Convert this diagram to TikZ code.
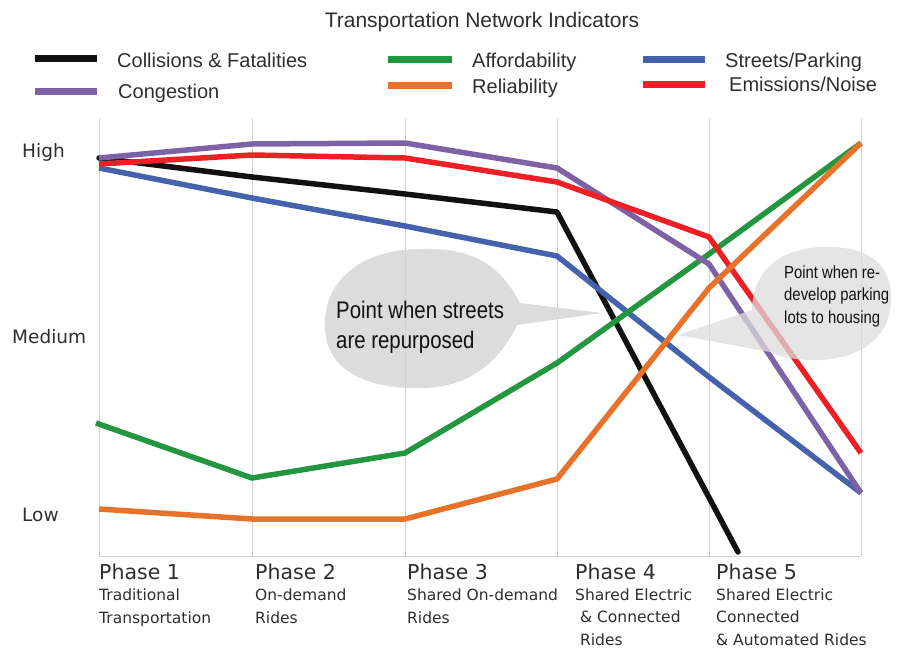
\documentclass[tikz,border=0pt]{standalone}
\usepackage{fontspec}
\setmainfont{Liberation Sans}
\newfontfamily\axisfont{DejaVu Sans}
\newfontfamily\condfont[FakeStretch=0.85]{Liberation Sans}
\definecolor{colblack}{HTML}{111111}
\definecolor{colpurple}{HTML}{7F62A6}
\definecolor{colred}{HTML}{EE2025}
\definecolor{colblue}{HTML}{4563AD}
\definecolor{colgreen}{HTML}{23973F}
\definecolor{colorange}{HTML}{E8722A}
\definecolor{bubblegray}{HTML}{DCDCDD}
\definecolor{gridgray}{HTML}{D2D2D2}
\definecolor{textgray}{HTML}{2E2E2E}

\begin{document}
\begin{tikzpicture}[x=1pt,y=-1pt,line join=round,
    gridline/.style={gridgray,line width=.8pt},
    series/.style={line width=5.5pt},
    keyline/.style={line width=7pt},
    keytext/.style={anchor=base west,inner sep=0,font=\fontsize{20}{22}\selectfont,textgray},
    levellabel/.style={anchor=base west,inner sep=0,font=\axisfont\fontsize{18.5}{20}\selectfont,textgray},
    phasehead/.style={anchor=base west,inner sep=0,font=\axisfont\fontsize{20.5}{22}\selectfont,textgray},
    phasetext/.style={anchor=base west,inner sep=0,align=left,font=\axisfont\fontsize{15.5}{22.5}\selectfont,textgray},
    bubble/.style={fill=bubblegray}]
    \useasboundingbox (0,0) rectangle (907,648);
    % grid
    \foreach \x in {99,252,405,557,709,861}
        \draw[gridline](\x,118)--(\x,556);
    \draw[gridline](99,556)--(861,556);
    % title and key
    \node[anchor=base,inner sep=0,font=\fontsize{21}{23}\selectfont,textgray](title)at(482,27){Transportation Network Indicators};
    \draw[keyline,colblack](35,58)--(97,58);
    \node[keytext](kcoll)at(117,67){Collisions \& Fatalities};
    \draw[keyline,colpurple](35,91)--(97,91);
    \node[keytext](kcong)at(118,98){Congestion};
    \draw[keyline,colgreen](388,59)--(452,59);
    \node[keytext](kaff)at(472,67){Affordability};
    \draw[keyline,colorange](388,85)--(452,85);
    \node[keytext](krel)at(472,93){Reliability};
    \draw[keyline,colblue](643,59)--(705,59);
    \node[keytext](kstr)at(725,67){Streets/Parking};
    \draw[keyline,colred](643,84)--(705,84);
    \node[keytext](kemi)at(729,91){Emissions/Noise};
    % levels
    \node[levellabel](high)at(22,157){High};
    \node[levellabel](medium)at(12,343){Medium};
    \node[levellabel](low)at(22,521){Low};
    % first bubble
    \fill[bubble](602,313)--(520,303) .. controls (495,255) and (460,248) .. (420,249)
        .. controls (350,250) and (322,290) .. (325,330)
        .. controls (328,375) and (375,390) .. (425,388)
        .. controls (480,386) and (505,350) .. (517,325)--cycle;
    \draw[gridline](405,249)--(405,388);
    \node[anchor=base west,inner sep=0,align=left,font=\condfont\fontsize{24}{30}\selectfont,colblack](streets)at(336,348){Point when streets\\are repurposed};
    % series
    \draw[series,colblack,line cap=round](99,158)--(252,177)--(405,194)--(557,212)--(738,552);
    \draw[series,colblue](99,168)--(252,198)--(405,226)--(557,256)--(709,377)--(861,493);
    \draw[series,colgreen](96,423)--(252,478)--(405,453)--(557,363)--(709,254)--(861,143);
    \draw[series,colpurple](99,158)--(252,144)--(405,143)--(557,168)--(709,264)--(861,493);
    \draw[series,colred](99,164)--(252,155)--(405,158)--(557,182)--(709,237)--(861,453);
    % second bubble
    \fill[bubble,fill opacity=.75](678,335)--(752,310) .. controls (752,280) and (770,250) .. (820,247)
        .. controls (870,245) and (892,265) .. (891,300)
        .. controls (890,345) and (850,360) .. (815,360)
        .. controls (795,360) and (780,357) .. (770,352)--cycle;
    \draw[series,colorange](99,509)--(252,519)--(405,519)--(557,479)--(709,288)--(861,143);
    \node[anchor=base west,inner sep=0,align=left,font=\condfont\fontsize{17.5}{22.5}\selectfont,colblack](parking)at(784,323){Point when re-\\develop parking\\lots to housing};
    % phases
    \node[phasehead](ph1)at(99,579){Phase 1};
    \node[phasetext](ph1t)at(99,623){Traditional\\Transportation};
    \node[phasehead](ph2)at(255,579){Phase 2};
    \node[phasetext](ph2t)at(255,623){On-demand\\Rides};
    \node[phasehead](ph3)at(407,579){Phase 3};
    \node[phasetext](ph3t)at(407,623){Shared On-demand\\Rides};
    \node[phasehead](ph4)at(575,579){Phase 4};
    \node[phasetext](ph4t)at(575,645){Shared Electric\\\ \& Connected\\\ Rides};
    \node[phasehead](ph5)at(716,579){Phase 5};
    \node[phasetext](ph5t)at(716,645){Shared Electric\\Connected\\\& Automated Rides};
\end{tikzpicture}
\end{document}
